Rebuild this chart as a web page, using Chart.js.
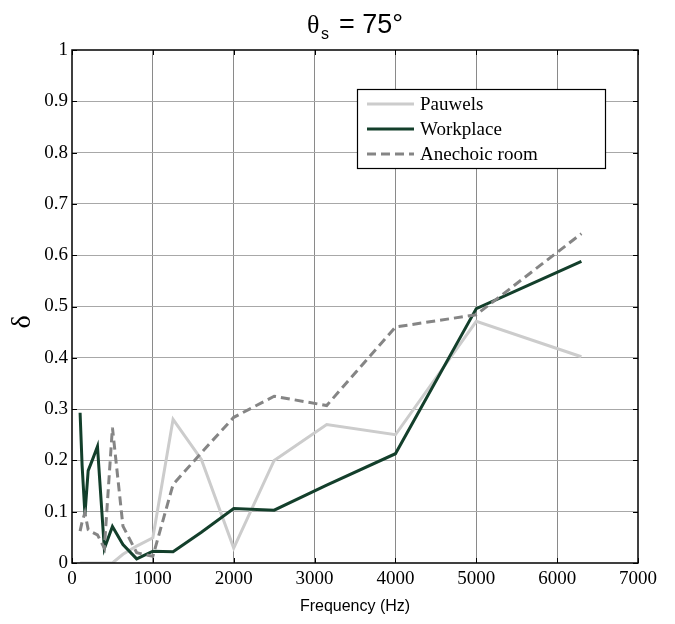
<!DOCTYPE html>
<html>
<head>
<meta charset="utf-8">
<script src="https://cdn.jsdelivr.net/npm/chart.js@4/dist/chart.umd.min.js"></script>
<style>
  body { margin: 0; background: #fff; }
  #wrap { width: 675px; height: 624px; }
</style>
</head>
<body>
<div id="wrap"><canvas id="chart" width="675" height="624"></canvas></div>
<script>
// third-octave band centres (Hz)
const freqs = [100, 125, 160, 200, 250, 315, 400, 500, 630, 800, 1000, 1250, 1600, 2000, 2500, 3150, 4000, 5000, 6300];

const pauwels   = [0, 0, 0, 0, 0, 0, 0, 0, 0.017, 0.033, 0.049, 0.28, 0.202, 0.029, 0.2, 0.27, 0.25, 0.471, 0.402];
const workplace = [0.293, 0.19, 0.095, 0.18, 0.2, 0.227, 0.028, 0.071, 0.036, 0.008, 0.023, 0.022, 0.06, 0.106, 0.103, 0.152, 0.213, 0.496, 0.588];
const anechoic  = [0.062, 0.08, 0.098, 0.065, 0.06, 0.055, 0.029, 0.264, 0.072, 0.02, 0.013, 0.153, 0.215, 0.284, 0.325, 0.307, 0.46, 0.484, 0.642];

const xTicks = [0, 1000, 2000, 3000, 4000, 5000, 6000, 7000];
const yTicks = [0, 0.1, 0.2, 0.3, 0.4, 0.5, 0.6, 0.7, 0.8, 0.9, 1];

const pts = vals => freqs.map((f, i) => ({ x: f, y: vals[i] }));

const SERIF = '"Liberation Serif", "Times New Roman", serif';
const SANS = '"Liberation Sans", Arial, sans-serif';

// frame, inward ticks, legend, title and axis labels
const decorations = {
  id: 'decorations',
  afterDraw(chart) {
    const ctx = chart.ctx;
    const a = chart.chartArea;
    const xs = chart.scales.x, ys = chart.scales.y;
    ctx.save();

    ctx.strokeStyle = '#000';
    ctx.lineWidth = 1.5;
    ctx.strokeRect(a.left, a.top, a.right - a.left, a.bottom - a.top);

    ctx.lineWidth = 1;
    ctx.beginPath();
    xTicks.forEach(v => {
      const px = Math.round(xs.getPixelForValue(v)) + 0.5;
      ctx.moveTo(px, a.bottom); ctx.lineTo(px, a.bottom - 5);
      ctx.moveTo(px, a.top); ctx.lineTo(px, a.top + 5);
    });
    yTicks.forEach(v => {
      const py = Math.round(ys.getPixelForValue(v)) + 0.5;
      ctx.moveTo(a.left, py); ctx.lineTo(a.left + 5, py);
      ctx.moveTo(a.right, py); ctx.lineTo(a.right - 5, py);
    });
    ctx.stroke();

    // legend
    const box = { x: 357, y: 89, w: 248, h: 79 };
    ctx.fillStyle = '#fff';
    ctx.fillRect(box.x, box.y, box.w, box.h);
    ctx.strokeStyle = '#000';
    ctx.lineWidth = 1.2;
    ctx.strokeRect(box.x + 0.5, box.y + 0.5, box.w, box.h);
    const items = [chart.data.datasets[0], chart.data.datasets[1], chart.data.datasets[2]];
    items.forEach((ds, i) => {
      const y = 104 + i * 25;
      ctx.strokeStyle = ds.borderColor;
      ctx.lineWidth = ds.borderWidth;
      ctx.setLineDash(ds.borderDash || []);
      ctx.beginPath();
      ctx.moveTo(367, y); ctx.lineTo(414, y);
      ctx.stroke();
      ctx.setLineDash([]);
      ctx.fillStyle = '#000';
      ctx.font = '19px ' + SERIF;
      ctx.textBaseline = 'middle';
      ctx.textAlign = 'left';
      ctx.fillText(ds.label, 420, y + 1);
    });

    // title: theta_s = 75°
    ctx.fillStyle = '#000';
    ctx.textBaseline = 'alphabetic';
    ctx.textAlign = 'left';
    ctx.font = '26px ' + SERIF;
    ctx.fillText('θ', 307, 33);
    ctx.font = '16px ' + SANS;
    ctx.fillText('s', 321, 39);
    ctx.font = '27px ' + SANS;
    ctx.fillText('= 75°', 339, 33);

    // x label
    ctx.font = '16px ' + SANS;
    ctx.textAlign = 'center';
    ctx.textBaseline = 'middle';
    ctx.fillText('Frequency (Hz)', (a.left + a.right) / 2, 607);

    // y label
    ctx.translate(23, 322);
    ctx.rotate(-Math.PI / 2);
    ctx.font = '28px ' + SERIF;
    ctx.fillText('δ', 0, 0);

    ctx.restore();
  }
};

new Chart(document.getElementById('chart'), {
  type: 'line',
  data: {
    datasets: [
      { label: 'Pauwels', data: pts(pauwels), borderColor: '#cccccc', borderWidth: 3, order: 3 },
      { label: 'Workplace', data: pts(workplace), borderColor: '#133f2b', borderWidth: 3, order: 2 },
      { label: 'Anechoic room', data: pts(anechoic), borderColor: '#858585', borderWidth: 3, borderDash: [9, 5], order: 1 }
    ]
  },
  options: {
    responsive: false,
    animation: false,
    layout: { padding: { top: 50, right: 37, left: 0, bottom: 0 } },
    elements: { point: { radius: 0 }, line: { tension: 0, fill: false } },
    plugins: { legend: { display: false }, title: { display: false }, tooltip: { enabled: false } },
    scales: {
      x: {
        type: 'linear', min: 0, max: 7000,
        afterBuildTicks: s => { s.ticks = xTicks.map(v => ({ value: v })); },
        afterFit: s => { s.height = 61; },
        grid: {
          drawTicks: false,
          color: ctx => (ctx.tick && (ctx.tick.value === 0 || ctx.tick.value === 7000)) ? 'rgba(0,0,0,0)' : '#8a8a8a',
          lineWidth: 1
        },
        border: { display: false },
        ticks: {
          padding: 5, color: '#000', font: { family: SERIF, size: 19 }, maxRotation: 0,
          callback: v => String(v)
        }
      },
      y: {
        type: 'linear', min: 0, max: 1,
        afterBuildTicks: s => { s.ticks = yTicks.map(v => ({ value: v })); },
        afterFit: s => { s.width = 72; },
        grid: {
          drawTicks: false,
          color: ctx => (ctx.tick && (ctx.tick.value === 0 || ctx.tick.value === 1)) ? 'rgba(0,0,0,0)' : '#a8a8a8',
          lineWidth: 1
        },
        border: { display: false },
        ticks: {
          padding: 4, color: '#000', font: { family: SERIF, size: 19 },
          callback: v => String(Number(v.toFixed(1)))
        }
      }
    }
  },
  plugins: [decorations]
});
</script>
</body>
</html>
